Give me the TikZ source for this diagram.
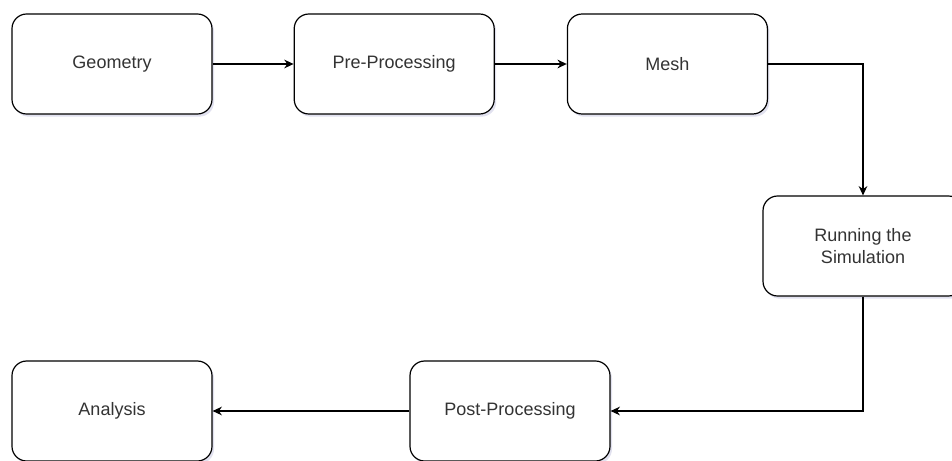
\documentclass[tikz,border=0pt]{standalone}
\usepackage{fontspec}
\setmainfont{Liberation Sans}
\usetikzlibrary{positioning, arrows.meta, shadows}

\begin{document}
\begin{tikzpicture}[
    x=0.75pt, y=-0.75pt,
    block/.style={
        rectangle,
        rounded corners=11pt,
        draw,
        line width=0.9pt,
        fill=white,
        align=center,
        text=black!80,
        font=\fontsize{13.5}{17}\selectfont,
        minimum width=150pt,
        minimum height=75pt,
        drop shadow={opacity=0.18, shadow xshift=1.5pt, shadow yshift=-2pt, fill=blue!30!gray}
    },
    arrow/.style={
        -{Stealth[length=7pt, width=6.5pt]},
        line width=0.9pt
    }
]
\useasboundingbox (0,0) rectangle (952,460);
\clip (0,0) rectangle (952,460);

\node[block] (geometry) at (112,64) {Geometry};

\node[block, right=60.75pt of geometry] (preproc) {Pre-Processing};

\node[block, right=54pt of preproc] (mesh) {Mesh};

\node[block] (simulation) at (863,246) {Running the\\Simulation};

\node[block] (postproc) at (510,411) {Post-Processing};

\node[block] (analysis) at (112,411) {Analysis};

\draw[arrow] (geometry) -- (preproc);
\draw[arrow] (preproc) -- (mesh);
\draw[arrow] (mesh.east) -| (simulation.north);
\draw[arrow] (simulation.south) |- (postproc.east);
\draw[arrow] (postproc) -- (analysis);

\end{tikzpicture}
\end{document}
